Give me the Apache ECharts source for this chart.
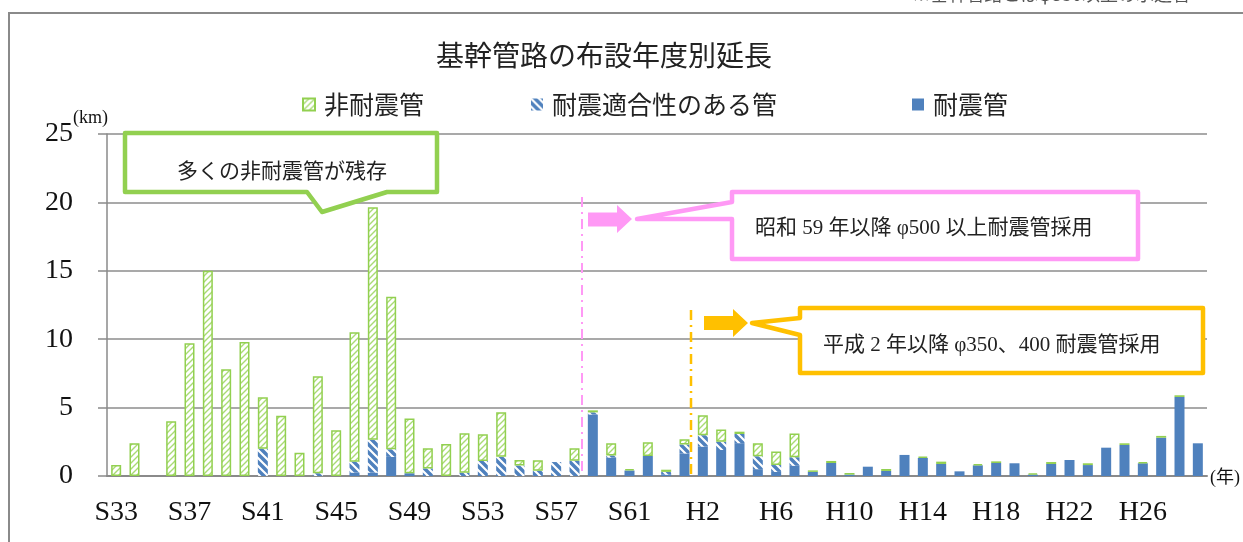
<!DOCTYPE html>
<html>
<head>
<meta charset="utf-8">
<script src="https://cdn.jsdelivr.net/npm/echarts@6/dist/echarts.min.js"></script>
<style>
  html, body { margin: 0; padding: 0; background: #fff; }
  #main { width: 1243px; height: 542px; }
</style>
</head>
<body>
<div id="main"></div>
<script>
// 布設年度 (S33〜H29)
var years = [
  'S33','S34','S35','S36','S37','S38','S39','S40','S41','S42',
  'S43','S44','S45','S46','S47','S48','S49','S50','S51','S52',
  'S53','S54','S55','S56','S57','S58','S59','S60','S61','S62',
  'S63','H1','H2','H3','H4','H5','H6','H7','H8','H9',
  'H10','H11','H12','H13','H14','H15','H16','H17','H18','H19',
  'H20','H21','H22','H23','H24','H25','H26','H27','H28','H29'
];
// 耐震管 (km)
var taishin = [
  0, 0, 0, 0, 0, 0, 0, 0, 0, 0,
  0, 0, 0, 0.25, 0.25, 1.4, 0.2, 0, 0, 0,
  0, 0, 0, 0, 0, 0, 4.5, 1.35, 0.4, 1.46,
  0.1, 1.65, 2.15, 1.9, 2.4, 0.5, 0.3, 0.75, 0.3, 0.95,
  0.1, 0.68, 0.37, 1.54, 1.32, 0.88, 0.34, 0.78, 0.95, 0.93,
  0.1, 0.88, 1.17, 0.8, 2.07, 2.27, 0.93, 2.8, 5.78, 2.39
];
// 耐震適合性のある管 (km)
var tekigou = [
  0, 0, 0, 0, 0, 0, 0, 0, 2.0, 0,
  0, 0.2, 0, 0.8, 2.4, 0.55, 0, 0.55, 0, 0.24,
  1.1, 1.4, 0.76, 0.39, 1.02, 1.12, 0.15, 0.15, 0, 0,
  0.2, 0.65, 0.83, 0.6, 0.67, 0.94, 0.5, 0.62, 0, 0,
  0, 0, 0, 0, 0, 0, 0, 0, 0, 0,
  0, 0, 0, 0, 0, 0, 0, 0, 0, 0
];
// 非耐震管 (km)
var hitaishin = [
  0.8, 2.4, 0, 4.0, 9.7, 15.0, 7.8, 9.8, 3.75, 4.4,
  1.7, 7.1, 3.35, 9.45, 17.0, 11.15, 4.0, 1.47, 2.34, 2.88,
  1.95, 3.26, 0.41, 0.76, 0, 0.9, 0.15, 0.9, 0.1, 1.0,
  0.16, 0.38, 1.46, 0.9, 0.17, 0.96, 1.0, 1.73, 0.11, 0.15,
  0.12, 0, 0.14, 0, 0.09, 0.17, 0, 0.1, 0.12, 0,
  0.1, 0.14, 0, 0.13, 0, 0.12, 0.09, 0.13, 0.12, 0
];
var yTicks = [0, 5, 10, 15, 20, 25];

var GREEN = '#92d050';
var BLUE = '#4f81bd';
var PINK = '#ff99f5';
var ORANGE = '#ffc000';
var SERIF = "'Liberation Serif', 'Noto Sans CJK JP', serif";
var JP = "'Noto Sans CJK JP', sans-serif";

function hatch(size, bg, fg, width, up) {
  var c = document.createElement('canvas');
  c.width = size; c.height = size;
  var ctx = c.getContext('2d');
  ctx.fillStyle = bg;
  ctx.fillRect(0, 0, size, size);
  ctx.strokeStyle = fg;
  ctx.lineWidth = width;
  ctx.beginPath();
  if (up) {
    ctx.moveTo(-1, size + 1); ctx.lineTo(size + 1, -1);
    ctx.moveTo(-1, 1); ctx.lineTo(1, -1);
    ctx.moveTo(size - 1, size + 1); ctx.lineTo(size + 1, size - 1);
  } else {
    ctx.moveTo(-1, -1); ctx.lineTo(size + 1, size + 1);
    ctx.moveTo(size - 1, -1); ctx.lineTo(size + 1, 1);
    ctx.moveTo(-1, size - 1); ctx.lineTo(1, size + 1);
  }
  ctx.stroke();
  return { image: c, repeat: 'repeat' };
}

var greenPat = hatch(6, '#ffffff', '#a9db74', 1.4, true);
var bluePat = hatch(8, BLUE, '#ffffff', 2.2, false);

function noZero(arr) {
  return arr.map(function (v) { return v ? v : '-'; });
}

var chart = echarts.init(document.getElementById('main'));
chart.setOption({
  animation: false,
  title: {
    text: '基幹管路の布設年度別延長',
    left: 436, top: 41, padding: 0,
    textStyle: { fontFamily: JP, fontSize: 28, fontWeight: 'normal', color: '#222' }
  },
  legend: [
    { data: ['非耐震管'], left: 302, top: 92 },
    { data: ['耐震適合性のある管'], left: 531, top: 92 },
    { data: ['耐震管'], left: 912, top: 92 }
  ].map(function (l) {
    l.padding = 0;
    l.icon = 'rect';
    l.itemWidth = 12; l.itemHeight = 12;
    l.textStyle = { fontFamily: JP, fontSize: 25, color: '#222', padding: [0, 0, 0, 4] };
    return l;
  }),
  grid: { left: 107, right: 36, top: 134, bottom: 66 },
  xAxis: {
    type: 'category',
    data: years,
    axisLine: { lineStyle: { color: '#8a8a8a', width: 2 } },
    axisTick: { interval: 0, length: 9, lineStyle: { color: '#8a8a8a', width: 1.5 } },
    axisLabel: { interval: 3, margin: 23, fontFamily: SERIF, fontSize: 28, color: '#111' }
  },
  yAxis: {
    type: 'value',
    min: yTicks[0], max: yTicks[yTicks.length - 1], interval: 5,
    axisLine: { show: true, lineStyle: { color: '#8a8a8a', width: 1.5 } },
    axisTick: { show: true, length: 9, lineStyle: { color: '#8a8a8a', width: 1.5 } },
    axisLabel: { margin: 34, fontFamily: SERIF, fontSize: 28, color: '#111' },
    splitLine: { lineStyle: { color: '#8c8c8c', width: 1.5 } }
  },
  series: [
    {
      name: '耐震管', type: 'bar', stack: 'all', barWidth: 10,
      itemStyle: { color: BLUE },
      data: noZero(taishin)
    },
    {
      name: '耐震適合性のある管', type: 'bar', stack: 'all', barWidth: 10,
      itemStyle: { color: bluePat },
      data: noZero(tekigou)
    },
    {
      name: '非耐震管', type: 'bar', stack: 'all', barWidth: 10,
      itemStyle: { color: greenPat, borderColor: GREEN, borderWidth: 1.5 },
      data: noZero(hitaishin)
    }
  ],
  graphic: [
    // 外枠
    { type: 'rect', shape: { x: 9, y: 13, width: 1300, height: 600 },
      style: { fill: 'none', stroke: '#8a8a8a', lineWidth: 2 }, silent: true },
    { type: 'text', x: 1190, y: -6,
      style: { text: '※基幹管路とはφ350以上の水道管', align: 'right', verticalAlign: 'middle',
        font: '18px ' + JP, fill: '#555' } },
    { type: 'text', x: 73, y: 118,
      style: { text: '(km)', verticalAlign: 'middle', font: '18px ' + SERIF, fill: '#111' } },
    { type: 'text', x: 1210, y: 478,
      style: { text: '(年)', verticalAlign: 'middle', font: '18px ' + SERIF, fill: '#111' } },
    // 縦の一点鎖線
    { type: 'line', shape: { x1: 582, y1: 197, x2: 582, y2: 476 }, z: 10,
      style: { stroke: PINK, lineWidth: 2, lineDash: [10, 5, 2, 5] } },
    { type: 'line', shape: { x1: 691, y1: 310, x2: 691, y2: 476 }, z: 10,
      style: { stroke: ORANGE, lineWidth: 2.5, lineDash: [10, 5, 2, 5] } },
    // 吹き出し（緑）
    { type: 'polygon', z: 20,
      shape: { points: [[125, 133], [437, 133], [437, 192], [387, 192], [322, 212], [307, 192], [125, 192]] },
      style: { fill: '#fff', stroke: GREEN, lineWidth: 4.5, lineJoin: 'round' } },
    { type: 'text', z: 21, x: 282, y: 170,
      style: { text: '多くの非耐震管が残存', align: 'center', verticalAlign: 'middle',
        font: '21px ' + JP, fill: '#222' } },
    // 吹き出し（ピンク）
    { type: 'polygon', z: 20,
      shape: { points: [[732, 192], [1138, 192], [1138, 259], [732, 259], [732, 219], [637, 219], [732, 202]] },
      style: { fill: '#fff', stroke: PINK, lineWidth: 4.5, lineJoin: 'round' } },
    { type: 'text', z: 21, x: 755, y: 228,
      style: { text: '昭和 59 年以降 φ500 以上耐震管採用', verticalAlign: 'middle',
        font: '21px ' + SERIF, fill: '#222' } },
    { type: 'polygon', z: 20,
      shape: { points: [[588, 212.5], [617, 212.5], [617, 205], [632, 219], [617, 233], [617, 226.5], [588, 226.5]] },
      style: { fill: PINK } },
    // 吹き出し（オレンジ）
    { type: 'polygon', z: 20,
      shape: { points: [[800, 308], [1203, 308], [1203, 373], [800, 373], [800, 335], [752, 323], [800, 318]] },
      style: { fill: '#fff', stroke: ORANGE, lineWidth: 4.5, lineJoin: 'round' } },
    { type: 'text', z: 21, x: 823, y: 345,
      style: { text: '平成 2 年以降 φ350、400 耐震管採用', verticalAlign: 'middle',
        font: '21px ' + SERIF, fill: '#222' } },
    { type: 'polygon', z: 20,
      shape: { points: [[704, 316], [733, 316], [733, 309], [748, 323], [733, 337], [733, 330], [704, 330]] },
      style: { fill: ORANGE } }
  ]
});
</script>
</body>
</html>
